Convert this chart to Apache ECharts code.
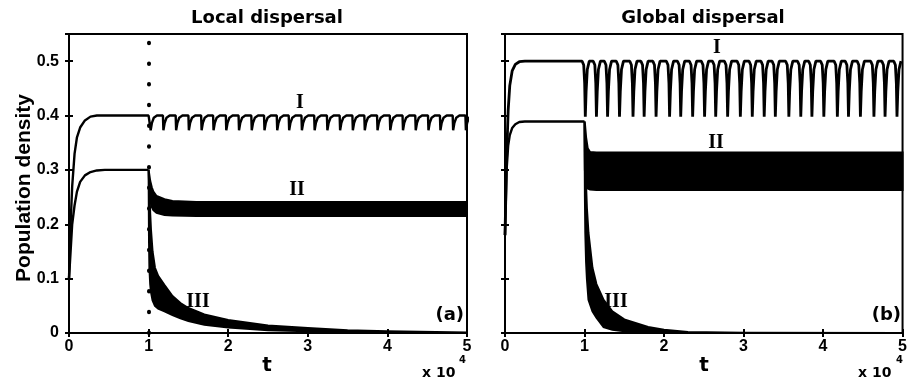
<!DOCTYPE html>
<html>
<head>
<meta charset="utf-8">
<script src="https://cdn.jsdelivr.net/npm/echarts@6/dist/echarts.min.js"></script>
<style>
  html, body { margin: 0; padding: 0; background: #fff; }
  #chart { width: 910px; height: 380px; }
</style>
</head>
<body>
<div id="chart"></div>
<script>
// ---- panel (a): local dispersal ----
const aPreT = [0, 0.02, 0.04, 0.07, 0.1, 0.14, 0.2, 0.27, 0.35, 0.45, 1.0]
const aIPre = [0.1, 0.2, 0.27, 0.33, 0.36, 0.378, 0.391, 0.398, 0.4, 0.4, 0.4]
const aIIPre = [0.1, 0.15, 0.2, 0.235, 0.26, 0.278, 0.29, 0.296, 0.299, 0.3, 0.3]
// times where curve I drops
const aISpikes = [1.02, 1.18, 1.34, 1.50, 1.66, 1.81, 1.97, 2.13, 2.29, 2.45, 2.61, 2.76, 2.92,
  3.08, 3.24, 3.40, 3.56, 3.71, 3.87, 4.03, 4.19, 4.35, 4.51, 4.66, 4.82, 4.98]
const aITop = 0.4
const aILow = 0.373
// shape of one drop: time offsets and fraction of the way back up
const aShapeDt = [0, 0.006, 0.022, 0.045, 0.085]
const aShapeFrac = [1, 0, 0.5, 0.85, 1]

// fast oscillation bands: upper and lower envelopes
const aIIT = [1.0, 1.01, 1.02, 1.04, 1.06, 1.1, 1.2, 1.3, 1.6, 5.0]
const aIIUp = [0.3, 0.29, 0.28, 0.268, 0.26, 0.252, 0.246, 0.243, 0.241, 0.241]
const aIILo = [0.3, 0.26, 0.245, 0.232, 0.226, 0.221, 0.217, 0.216, 0.215, 0.215]

const aIIIT = [1.0, 1.005, 1.01, 1.02, 1.03, 1.05, 1.08, 1.12, 1.2, 1.3, 1.4, 1.5, 1.7, 2.0, 2.5, 3.0, 3.5, 4.0, 5.0]
const aIIIUp = [0.3, 0.285, 0.265, 0.22, 0.19, 0.15, 0.12, 0.105, 0.088, 0.068, 0.055, 0.046, 0.034, 0.024, 0.014, 0.009, 0.005, 0.003, 0.001]
const aIIILo = [0.3, 0.17, 0.12, 0.09, 0.075, 0.06, 0.05, 0.045, 0.04, 0.033, 0.027, 0.022, 0.015, 0.01, 0.005, 0.003, 0.002, 0.001, 0]

// ---- panel (b): global dispersal ----
const bPreT = [0, 0.02, 0.04, 0.06, 0.09, 0.13, 0.18, 0.25, 0.9]
const bIPre = [0.18, 0.32, 0.41, 0.455, 0.482, 0.494, 0.499, 0.5, 0.5]
const bIIPre = [0.18, 0.3, 0.345, 0.364, 0.377, 0.384, 0.388, 0.389, 0.389]
const bIIPreEnd = 1.0
// times of the bottoms of curve I's dips
const bISpikes = [1.01, 1.15, 1.29, 1.44, 1.61, 1.75, 1.90, 2.07, 2.21, 2.36, 2.51, 2.65, 2.80, 2.96,
  3.11, 3.26, 3.40, 3.57, 3.72, 3.86, 4.01, 4.18, 4.32, 4.47, 4.64, 4.78, 4.93]
const bITop = 0.5
const bILow = 0.398
const bShapeDt = [-0.04, -0.02, -0.008, 0, 0.01, 0.025, 0.05]
const bShapeFrac = [1, 0.93, 0.6, 0, 0.45, 0.85, 1]

const bIIT = [1.0, 1.005, 1.02, 1.04, 1.07, 1.15, 5.0]
const bIIUp = [0.389, 0.385, 0.36, 0.34, 0.333, 0.332, 0.332]
const bIILo = [0.389, 0.3, 0.272, 0.266, 0.264, 0.263, 0.263]

const bIIIT = [1.0, 1.005, 1.01, 1.02, 1.03, 1.05, 1.1, 1.15, 1.24, 1.35, 1.5, 1.8, 2.0, 2.3, 3.0, 5.0]
const bIIIUp = [0.389, 0.36, 0.33, 0.27, 0.23, 0.184, 0.12, 0.09, 0.061, 0.04, 0.025, 0.011, 0.006, 0.002, 0.0005, 0]
const bIIILo = [0.389, 0.25, 0.184, 0.13, 0.1, 0.061, 0.04, 0.028, 0.011, 0.006, 0.003, 0.001, 0, 0, 0, 0]

const xTicks = [0, 1, 2, 3, 4, 5]

const black = '#000'

function pairs (t, v) {
  return t.map((x, i) => [x, v[i]])
}

function spikyLine (preT, pre, spikes, top, low, dts, fracs) {
  const pts = pairs(preT, pre)
  spikes.forEach(t => {
    dts.forEach((d, i) => pts.push([t + d, low + fracs[i] * (top - low)]))
  })
  return pts
}

function line (data, xi, width) {
  return {
    type: 'line', xAxisIndex: xi, yAxisIndex: xi, data: data,
    symbol: 'none', silent: true,
    lineStyle: { color: black, width: width || 2.4 }
  }
}

// band of fast oscillation, drawn as one filled polygon between the envelopes
function band (t, up, lo, xi) {
  const outline = pairs(t, up).concat(pairs(t, lo).reverse())
  return {
    type: 'custom', xAxisIndex: xi, yAxisIndex: xi, silent: true,
    data: [[t[0], up[0]]],
    renderItem: (params, api) => ({
      type: 'polygon',
      shape: { points: outline.map(p => api.coord(p)) },
      style: { fill: black, stroke: black, lineWidth: 2 }
    })
  }
}

const tickStyle = { inside: true, length: 4, lineStyle: { color: black, width: 2 } }
const labelStyle = { color: black, fontWeight: 'bold', fontSize: 16, fontFamily: 'Liberation Sans' }

function xAx (grid, pos, labels) {
  return {
    type: 'value', gridIndex: grid, position: pos, min: 0, max: 5, interval: 1,
    axisLine: { show: false }, splitLine: { show: false }, axisTick: tickStyle,
    axisLabel: labels ? Object.assign({ margin: 6, formatter: v => xTicks.indexOf(v) >= 0 ? String(v) : '' }, labelStyle) : { show: false }
  }
}

function yAx (grid, pos, labels) {
  return {
    type: 'value', gridIndex: grid, position: pos, min: 0, max: 0.55, interval: 0.1,
    axisLine: { show: false }, splitLine: { show: false }, axisTick: tickStyle,
    axisLabel: labels ? Object.assign({ margin: 10, showMaxLabel: false }, labelStyle) : { show: false }
  }
}

const gridStyle = { show: true, borderColor: black, borderWidth: 2, backgroundColor: '#fff', top: 34, height: 299 }

const titleFont = 'bold 18px "DejaVu Sans"'
const romanFont = 'bold 20px "Liberation Serif"'

function txt (text, x, y, font, align) {
  return {
    type: 'text', x: x, y: y, silent: true, z: 100,
    style: { text: text, font: font, fill: black, align: align || 'center', verticalAlign: 'middle' }
  }
}

const chart = echarts.init(document.getElementById('chart'))

const aI = line(spikyLine(aPreT, aIPre, aISpikes, aITop, aILow, aShapeDt, aShapeFrac), 0)
aI.markLine = {
  silent: true, symbol: 'none', label: { show: false },
  lineStyle: { color: black, width: 4, type: [0.5, 20.2], cap: 'round' },
  data: [{ xAxis: 1 }]
}

const bIIpreData = pairs(bPreT, bIIPre).concat([[bIIPreEnd, bIIPre[bIIPre.length - 1]]])

chart.setOption({
  animation: false,
  backgroundColor: '#fff',
  grid: [
    Object.assign({ left: 69, width: 398 }, gridStyle),
    Object.assign({ left: 505, width: 399 }, gridStyle)
  ],
  xAxis: [xAx(0, 'bottom', true), xAx(0, 'top', false), xAx(1, 'bottom', true), xAx(1, 'top', false)],
  yAxis: [yAx(0, 'left', true), yAx(0, 'right', false), yAx(1, 'left', false), yAx(1, 'right', false)],
  series: [
    aI,
    line(pairs(aPreT, aIIPre), 0),
    band(aIIT, aIIUp, aIILo, 0),
    band(aIIIT, aIIIUp, aIIILo, 0),
    line(spikyLine(bPreT, bIPre, bISpikes, bITop, bILow, bShapeDt, bShapeFrac), 2, 2.8),
    line(bIIpreData, 2),
    band(bIIT, bIIUp, bIILo, 2),
    band(bIIIT, bIIIUp, bIIILo, 2)
  ],
  graphic: [
    txt('Local dispersal', 267, 18, titleFont),
    txt('Global dispersal', 703, 18, titleFont),
    Object.assign(txt('Population density', 24, 188, 'bold 21px "Liberation Sans"'), { rotation: Math.PI / 2 }),
    txt('t', 267, 366, 'bold 20px "DejaVu Sans"'),
    txt('t', 704, 366, 'bold 20px "DejaVu Sans"'),
    txt('x 10', 422, 373, 'bold 14px "DejaVu Sans"', 'left'),
    txt('4', 459, 360, 'bold 10px "DejaVu Sans"', 'left'),
    txt('x 10', 858, 373, 'bold 14px "DejaVu Sans"', 'left'),
    txt('4', 896, 360, 'bold 10px "DejaVu Sans"', 'left'),
    txt('(a)', 464, 315, titleFont, 'right'),
    txt('(b)', 901, 315, titleFont, 'right'),
    txt('I', 300, 103, romanFont),
    txt('II', 297, 190, romanFont),
    txt('III', 198, 302, romanFont),
    txt('I', 717, 48, romanFont),
    txt('II', 716, 143, romanFont),
    txt('III', 616, 302, romanFont)
  ]
})
</script>
</body>
</html>
